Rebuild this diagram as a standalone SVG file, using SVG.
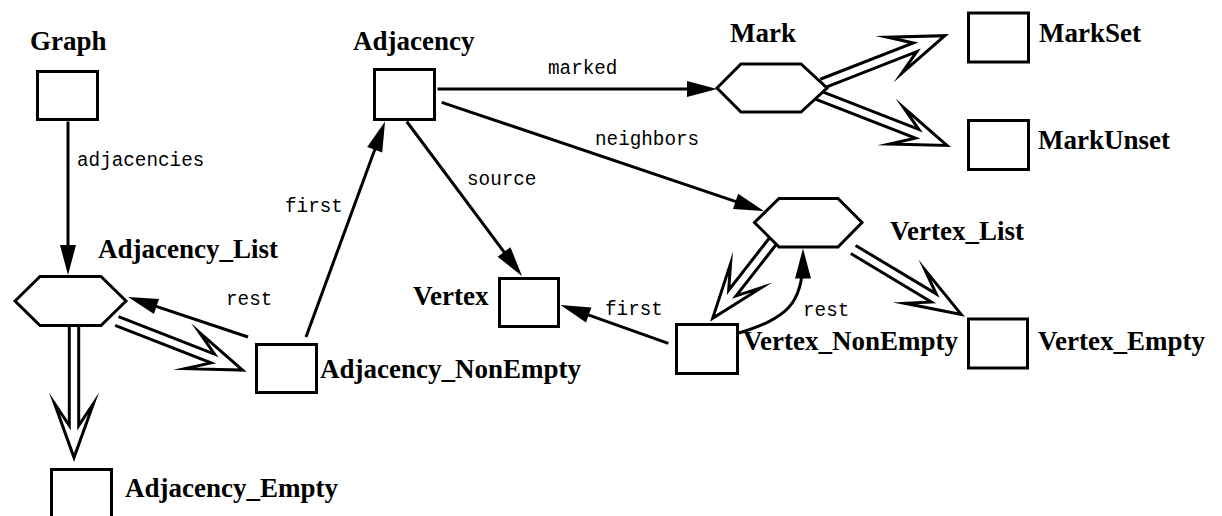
<svg xmlns="http://www.w3.org/2000/svg" width="1222" height="516" viewBox="0 0 1222 516">
  <defs>
    <style>
      .box, .hex { fill: #fff; stroke: #000; stroke-width: 3; stroke-linejoin: miter; }
      .lbl { font-family: "Liberation Serif", "Times New Roman", serif; font-weight: bold; font-size: 27px; fill: #000; }
      .rl { font-family: "Liberation Mono", "Courier New", monospace; font-size: 19.3px; fill: #000; }
      .edge { fill: none; stroke: #000; stroke-width: 3; marker-end: url(#ah); }
      .inh { fill: none; stroke: #000; stroke-width: 3; stroke-linejoin: miter; stroke-miterlimit: 10; }
    </style>
    <!-- filled arrowhead; tip sits 10px beyond the line end -->
    <marker id="ah" markerUnits="userSpaceOnUse" markerWidth="30" markerHeight="16" refX="20" refY="8" orient="auto" overflow="visible">
      <path d="M0,0 L30,8 L0,16 Z" fill="#000"/>
    </marker>
  </defs>

  <rect width="1222" height="516" fill="#fff"/>

  <!-- connectors -->
  <g id="connectors">
    <!-- attribute references -->
    <path class="edge" d="M68,121.5 L68,265"/>
    <path class="edge" d="M437.5,89 L707,89"/>
    <path class="edge" d="M441.7,102.3 L754.5,207.8"/>
    <path class="edge" d="M406.7,121.5 L516,268"/>
    <path class="edge" d="M306,337 L381.6,130.9"/>
    <path class="edge" d="M248,337 L137.5,300.2"/>
    <path class="edge" d="M668.3,343.3 L569.9,308.3"/>
    <path class="edge" d="M739,333 C786,318 803,305 803,258.5"/>

    <!-- subtype links: double shaft with open barbed head, drawn along +x with the tip at the origin -->
    <path class="inh" transform="translate(74,457.5) rotate(90)" d="M-135,-4.7 H-32 L-54,-19.5 L0,0 L-54,19.5 L-32,4.7 H-135"/>
    <path class="inh" transform="translate(242.6,370.1) rotate(21.3)" d="M-135,-4.7 H-32 L-54,-19.5 L0,0 L-54,19.5 L-32,4.7 H-135"/>
    <path class="inh" transform="translate(944.9,35.7) rotate(-21.3)" d="M-132,-4.7 H-32 L-54,-19.5 L0,0 L-54,19.5 L-32,4.7 H-132"/>
    <path class="inh" transform="translate(946.9,145.4) rotate(21.3)" d="M-140,-4.7 H-32 L-54,-19.5 L0,0 L-54,19.5 L-32,4.7 H-140"/>
    <path class="inh" transform="translate(712.7,318.2) rotate(128)" d="M-100,-4.7 H-32 L-54,-19.5 L0,0 L-54,19.5 L-32,4.7 H-100"/>
    <path class="inh" transform="translate(961.2,314.4) rotate(31)" d="M-126,-4.7 H-32 L-54,-19.5 L0,0 L-54,19.5 L-32,4.7 H-126"/>

    <!-- reference names -->
    <text class="rl" x="77" y="166">adjacencies</text>
    <text class="rl" x="548" y="74">marked</text>
    <text class="rl" x="595" y="145">neighbors</text>
    <text class="rl" x="467" y="185">source</text>
    <text class="rl" x="285" y="212">first</text>
    <text class="rl" x="226" y="305">rest</text>
    <text class="rl" x="605" y="315">first</text>
    <text class="rl" x="803" y="316">rest</text>
  </g>

  <!-- nodes -->
  <g id="Graph">
    <rect class="box" x="37.5" y="71.5" width="60" height="48"/>
    <text class="lbl" x="30" y="50">Graph</text>
  </g>
  <g id="Adjacency">
    <rect class="box" x="374.5" y="69.5" width="60" height="50"/>
    <text class="lbl" x="353" y="50">Adjacency</text>
  </g>
  <g id="Mark">
    <path class="hex" d="M717,88 L741,64 L801,64 L827,88 L801,112 L741,112 Z"/>
    <text class="lbl" x="730" y="42">Mark</text>
  </g>
  <g id="MarkSet">
    <rect class="box" x="968.5" y="13" width="60" height="49"/>
    <text class="lbl" x="1039" y="42">MarkSet</text>
  </g>
  <g id="MarkUnset">
    <rect class="box" x="968.5" y="120.5" width="60" height="49"/>
    <text class="lbl" x="1038" y="149">MarkUnset</text>
  </g>
  <g id="Adjacency_List">
    <path class="hex" d="M15,301 L40,276.5 L101,276.5 L126,301 L101,325.5 L40,325.5 Z"/>
    <text class="lbl" x="98" y="258">Adjacency_List</text>
  </g>
  <g id="Adjacency_NonEmpty">
    <rect class="box" x="256.5" y="344.5" width="60" height="48"/>
    <text class="lbl" x="320" y="378">Adjacency_NonEmpty</text>
  </g>
  <g id="Adjacency_Empty">
    <rect class="box" x="51.5" y="469.5" width="60" height="50"/>
    <text class="lbl" x="125" y="497">Adjacency_Empty</text>
  </g>
  <g id="Vertex">
    <rect class="box" x="499.5" y="278.5" width="59" height="48"/>
    <text class="lbl" x="413" y="305">Vertex</text>
  </g>
  <g id="Vertex_List">
    <path class="hex" d="M754.5,222.5 L779,198.5 L838,198.5 L862,222.5 L838,247 L779,247 Z"/>
    <text class="lbl" x="890" y="240">Vertex_List</text>
  </g>
  <g id="Vertex_NonEmpty">
    <rect class="box" x="676.5" y="324.5" width="61" height="49"/>
    <text class="lbl" x="743" y="350">Vertex_NonEmpty</text>
  </g>
  <g id="Vertex_Empty">
    <rect class="box" x="968.5" y="319" width="59" height="49"/>
    <text class="lbl" x="1038" y="350">Vertex_Empty</text>
  </g>
</svg>
